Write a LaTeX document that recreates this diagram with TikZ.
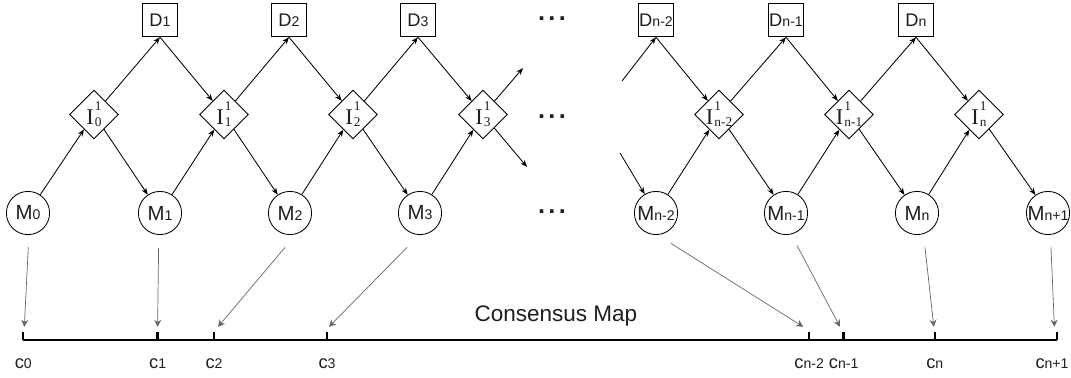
\documentclass[tikz,border=0pt]{standalone}
\usepackage{fontspec}
\setmainfont{Liberation Sans}
\newfontfamily\timesfont{Liberation Serif}
\usetikzlibrary{arrows.meta,shapes.geometric}
\definecolor{ink}{RGB}{30,30,30}
\definecolor{mapgray}{RGB}{96,106,106}
% letter with a small index on the baseline
\newcommand{\lbl}[3][13]{{\fontsize{#1}{#1}\selectfont #2}{\fontsize{10}{10}\selectfont #3}}
% serif I with upper index 1 and lower index
\newcommand{\ilbl}[1]{{\timesfont\fontsize{16}{16}\selectfont I}\kern0.8pt\rlap{\raisebox{9.5pt}{\timesfont\fontsize{9.5}{9.5}\selectfont 1}}\raisebox{-1.9pt}{\timesfont\fontsize{9.5}{9.5}\selectfont #1}}

\begin{document}
\begin{tikzpicture}[>={Stealth[length=5pt,width=3.8pt]},text=ink,
 dbox/.style={rectangle,draw,line width=0.6pt,minimum width=0.86cm,minimum height=0.84cm,inner sep=-2pt},
 idiam/.style={diamond,draw,line width=0.6pt,minimum width=1.22cm,minimum height=1.22cm,inner sep=-3pt},
 mcirc/.style={circle,draw,line width=0.6pt,minimum size=1.08cm,inner sep=-3pt},
 flow/.style={->,line width=0.6pt},
 maparrow/.style={-{Stealth[length=5pt,width=5pt]},draw=mapgray,line width=0.5pt},
 axisline/.style={line width=1.6pt},
 clab/.style={anchor=base,inner sep=0pt},
 dots/.style={font=\bfseries\fontsize{18}{18}\selectfont,inner sep=0pt}]
\useasboundingbox (0,0) rectangle (26.775,9.425);
% top row
\node[dbox] (D1) at (4.0,8.925) {\lbl{D}{1}};
\node[dbox] (D2) at (7.225,8.925) {\lbl{D}{2}};
\node[dbox] (D3) at (10.45,8.925) {\lbl{D}{3}};
\node[dbox] (Dn2) at (16.4,8.925) {\lbl{D}{n-2}};
\node[dbox] (Dn1) at (19.65,8.925) {\lbl{D}{n-1}};
\node[dbox] (Dn) at (22.9,8.925) {\lbl{D}{n}};
% middle row
\node[idiam] (I0) at (2.35,6.5625) {\ilbl{0}};
\node[idiam] (I1) at (5.6,6.5625) {\ilbl{1}};
\node[idiam] (I2) at (8.825,6.5625) {\ilbl{2}};
\node[idiam] (I3) at (12.075,6.5625) {\ilbl{3}};
\node[idiam] (In2) at (17.975,6.5625) {\ilbl{n-2}};
\node[idiam] (In1) at (21.225,6.5625) {\ilbl{n-1}};
\node[idiam] (In) at (24.475,6.5625) {\ilbl{n}};
% bottom row
\node[mcirc] (M0) at (0.7,4.1) {\lbl[14.5]{M}{0}};
\node[mcirc] (M1) at (4.0,4.1) {\lbl[14.5]{M}{1}};
\node[mcirc] (M2) at (7.25,4.1) {\lbl[14.5]{M}{2}};
\node[mcirc] (M3) at (10.5,4.1) {\lbl[14.5]{M}{3}};
\node[mcirc] (Mn2) at (16.4,4.1) {\lbl[14.5]{M}{n-2}};
\node[mcirc] (Mn1) at (19.65,4.1) {\lbl[14.5]{M}{n-1}};
\node[mcirc] (Mn) at (22.925,4.1) {\lbl[14.5]{M}{n}};
\node[mcirc] (Mnp) at (26.2,4.1) {\lbl[14.5]{M}{n+1}};
% gap
\node[dots] (gapD) at (13.8,8.95) {.\kern2.4pt.\kern2.4pt.};
\node[dots] (gapI) at (13.8,6.5) {.\kern2.4pt.\kern2.4pt.};
\node[dots] (gapM) at (13.8,4.125) {.\kern2.4pt.\kern2.4pt.};
\coordinate (s3a) at (13.075,7.725);
\coordinate (s3b) at (13.175,5.25);
\coordinate (sna) at (15.55,7.4);
\coordinate (snb) at (15.5,5.6);
% chain
\draw[flow] (M0)--(I0);
\draw[flow] (I0)--(D1.south);
\draw[flow] (I0)--(M1);
\draw[flow] (D1.south)--(I1);
\draw[flow] (M1)--(I1);
\draw[flow] (I1)--(D2.south);
\draw[flow] (I1)--(M2);
\draw[flow] (D2.south)--(I2);
\draw[flow] (M2)--(I2);
\draw[flow] (I2)--(D3.south);
\draw[flow] (I2)--(M3);
\draw[flow] (D3.south)--(I3);
\draw[flow] (M3)--(I3);
\draw[flow] (I3)--(s3a);
\draw[flow] (I3)--(s3b);
\draw[flow] (sna)--(Dn2.south);
\draw[flow] (snb)--(Mn2);
\draw[flow] (Dn2.south)--(In2);
\draw[flow] (Mn2)--(In2);
\draw[flow] (In2)--(Dn1.south);
\draw[flow] (In2)--(Mn1);
\draw[flow] (Dn1.south)--(In1);
\draw[flow] (Mn1)--(In1);
\draw[flow] (In1)--(Dn.south);
\draw[flow] (In1)--(Mn);
\draw[flow] (Dn.south)--(In);
\draw[flow] (Mn)--(In);
\draw[flow] (In)--(Mnp);
% consensus map
\coordinate (c0) at (0.583,0.925);
\coordinate (c1) at (3.94,0.925);
\coordinate (c2) at (5.35,0.925);
\coordinate (c3) at (8.175,0.925);
\coordinate (cn2) at (20.23,0.925);
\coordinate (cn1) at (21.09,0.925);
\coordinate (cn) at (23.37,0.925);
\coordinate (cnp) at (26.42,0.925);
\draw[axisline] (c0)--(cnp);
\draw[axisline] (c0)--++(0,0.2);
\draw[axisline] (c1)--++(0,0.2);
\draw[axisline] (c2)--++(0,0.2);
\draw[axisline] (c3)--++(0,0.2);
\draw[axisline] (cn2)--++(0,0.2);
\draw[axisline] (cn1)--++(0,0.2);
\draw[axisline] (cn)--++(0,0.2);
\draw[axisline] (cnp)--++(0,0.2);
\node[anchor=base,font=\fontsize{16}{16}\selectfont] (title) at (13.9,1.38) {Consensus Map};
\node[clab] (l0) at (0.583,0.22) {\lbl{c}{0}};
\node[clab] (l1) at (3.94,0.22) {\lbl{c}{1}};
\node[clab] (l2) at (5.35,0.22) {\lbl{c}{2}};
\node[clab] (l3) at (8.175,0.22) {\lbl{c}{3}};
\node[clab] (ln2) at (20.23,0.22) {\lbl{c}{n-2}};
\node[clab] (ln1) at (21.09,0.22) {\lbl{c}{n-1}};
\node[clab] (ln) at (23.37,0.22) {\lbl{c}{n}};
\node[clab] (lnp) at (26.3,0.22) {\lbl{c}{n+1}};
\draw[maparrow] ([xshift=0.0075cm,yshift=-0.3cm]M0.south)--([xshift=0.025cm,yshift=0.33cm]c0);
\draw[maparrow] ([xshift=-0.035cm,yshift=-0.335cm]M1.south)--([yshift=0.33cm]c1);
\draw[maparrow] ([xshift=-0.125cm,yshift=-0.31cm]M2.south)--([xshift=0.1cm,yshift=0.33cm]c2);
\draw[maparrow] ([xshift=-0.325cm,yshift=-0.31cm]M3.south)--([xshift=0.05cm,yshift=0.33cm]c3);
\draw[maparrow] ([xshift=0.375cm,yshift=-0.21cm]Mn2.south)--([xshift=-0.15cm,yshift=0.33cm]cn2);
\draw[maparrow] ([xshift=0.275cm,yshift=-0.26cm]Mn1.south)--([xshift=-0.09cm,yshift=0.33cm]cn1);
\draw[maparrow] ([xshift=0.2cm,yshift=-0.31cm]Mn.south)--([xshift=-0.025cm,yshift=0.33cm]cn);
\draw[maparrow] ([xshift=0.075cm,yshift=-0.31cm]Mnp.south)--([xshift=-0.06cm,yshift=0.33cm]cnp);
\end{tikzpicture}
\end{document}
